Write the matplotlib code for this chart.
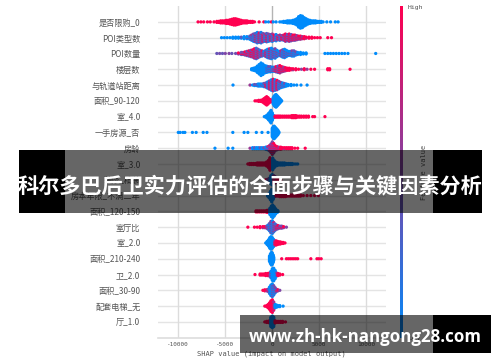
import matplotlib
matplotlib.use("Agg")
import matplotlib.pyplot as plt
import numpy as np
from matplotlib.colors import LinearSegmentedColormap
from matplotlib.patches import Rectangle

W, H = 500, 362
CJK = ["Noto Sans CJK SC", "DejaVu Sans"]
MONO = ["DejaVu Sans Mono", "Noto Sans CJK SC"]

feature_names = ["是否限购_0", "POI类型数", "POI数量", "楼层数", "与轨道站距离", "面积_90-120", "室_4.0", "一手房源_否", "房龄", "室_3.0",
                 "装修_精装", "房本年限_不满二年", "面积_120-150", "室厅比", "室_2.0", "面积_210-240", "卫_2.0", "面积_30-90", "配套电梯_无", "厅_1.0"]
x_ticks = [-10000, -5000, 0, 5000, 10000]
x_tick_labels = ["-10000", "-5000", "0", "5000", "10000"]
banner_title = "科尔多巴后卫实力评估的全面步骤与关键因素分析"
banner_url = "www.zh-hk-nangong28.com"

# each row: shap value of a bin, how many samples stack there, feature value (0 low, 1 high)
row0_x = [-7900, -7600, -7300, -6900, -6600, -6200, -5900, -5700, -5500, -5300, -5100, -4900, -4700, -4500, -4300, -4100, -3900, -3700, -3500, -3300, -3100, -2900, -2700, -2500, -2300, -2100, -1900, -1400, -900, -700, -400, -100, 100, 400, 800, 1000, 1200, 1400, 1600, 1800, 2000, 2200, 2400, 2600, 2800, 3000, 3200, 3400, 3600, 3800, 4000, 4200, 4400, 4600, 4800, 5000, 5200, 5400, 5800, 6200, 6700, 7000]
row0_n = [1, 1, 1, 1, 1, 1, 2, 2, 3, 3, 3, 4, 4, 5, 6, 7, 7, 6, 5, 4, 3, 3, 3, 2, 2, 2, 1, 1, 1, 1, 1, 1, 1, 1, 1, 1, 2, 2, 3, 3, 3, 4, 5, 7, 11, 13, 12, 9, 7, 5, 4, 3, 3, 3, 2, 2, 2, 1, 1, 1, 1, 1]
row0_c = [1] * 29 + [0, 0, 1, 0, 0] + [0] * 28

row1_x = [-5400, -5100, -4800, -4500, -4200, -3900, -3600, -3300, -3000, -2700, -2400, -2200, -2000, -1800, -1600, -1400, -1200, -1000, -800, -600, -400, -200, 0, 200, 400, 600, 800, 1000, 1200, 1400, 1600, 1800, 2000, 2200, 2400, 2600, 2800, 3000, 3200, 3400, 3600, 3900, 4200, 4500, 4800, 5100, 5900, 6300]
row1_n = [1, 1, 1, 1, 2, 2, 2, 2, 3, 3, 4, 6, 8, 9, 11, 10, 11, 9, 8, 9, 8, 7, 8, 6, 7, 5, 6, 5, 6, 8, 7, 8, 7, 6, 6, 5, 4, 4, 3, 3, 2, 2, 2, 1, 1, 1, 1, 1]
row1_c = [0, 0, 0, 0, 0, 0, 0, 0.05, 0, 0.1, 0.05, 0.3, 0.15, 0.55, 0.3, 0.6, 0.35, 0.7, 0.3, 0.6, 0.2, 0.65, 0.3, 0.7, 0.25, 0.75, 0.4, 0.8, 0.55, 0.85, 0.6, 0.85, 0.65, 0.9, 0.7, 0.85, 0.8, 0.95, 0.9, 1, 0.95, 1, 1, 1, 1, 1, 1, 1]

row2_x = [-5900, -5600, -5300, -5000, -4600, -4300, -3900, -3600, -3300, -3100, -2900, -2700, -2500, -2300, -2100, -1900, -1700, -1500, -1300, -1100, -900, -700, -500, -300, -100, 100, 300, 500, 700, 900, 1100, 1300, 1500, 1700, 1900, 2100, 2300, 2500, 2700, 3000, 3300, 3600, 5600, 5900, 6200, 6500, 6800, 7100, 7400, 7700, 8050, 11000]
row2_n = [1, 1, 1, 1, 1, 1, 1, 2, 3, 3, 4, 5, 6, 7, 8, 10, 11, 9, 7, 6, 5, 7, 9, 10, 11, 9, 10, 7, 5, 6, 8, 9, 7, 5, 5, 6, 6, 4, 3, 3, 2, 2, 1, 1, 1, 1, 1, 1, 1, 1, 1, 1]
row2_c = [0.7, 0.75, 0.7, 0.8, 0.8, 0.7, 0.75, 0.75, 0.7, 0.8, 0.7, 0.75, 0.6, 0.8, 0.65, 0.85, 0.5, 0.7, 0.4, 0.6, 0.3, 0.6, 0.2, 0.5, 0.15, 0.4, 0.2, 0.35, 0.1, 0.4, 0.1, 0.3, 0.1, 0.2, 0.05, 0.25, 0.05, 0.15, 0.05, 0, 0, 0, 0.05, 0, 0, 0, 0, 0, 0, 0, 0, 0]

row3_x = [-2200, -2000, -1800, -1600, -1400, -1200, -1000, -800, -600, -400, -200, 0, 200, 400, 600, 800, 1000, 1200, 1400, 1600, 1800, 2000, 2200, 2500, 2800, 3100, 3400, 3700, 4100, 4500, 5900, 6100, 8270]
row3_n = [2, 3, 4, 7, 10, 13, 11, 8, 7, 6, 6, 5, 5, 6, 7, 8, 6, 5, 4, 3, 3, 2, 2, 2, 1, 1, 2, 1, 1, 1, 2, 2, 1]
row3_c = [0, 0, 0, 0, 0, 0, 0, 0, 0.05, 0.1, 0.1, 0.3, 0.55, 0.75, 0.6, 0.85, 0.8, 0.9, 0.95, 1, 1, 1, 0.9, 1, 1, 0.85, 1, 0.9, 1, 1, 1, 1, 1]

row4_x = [-4180, -2370, -2100, -1900, -1700, -1500, -1300, -1100, -900, -700, -500, -300, -100, 100, 300, 500, 700, 900, 1100, 1300, 1500, 1700, 2000, 2300, 2600, 3050, 3700]
row4_n = [1, 1, 1, 2, 2, 3, 3, 3, 4, 5, 7, 9, 11, 12, 11, 10, 8, 6, 5, 4, 3, 2, 2, 1, 1, 1, 1]
row4_c = [0, 0.9, 0.3, 0.1, 0.05, 0.1, 0, 0.2, 0.1, 0.7, 0.1, 0.85, 0.2, 0.9, 0.25, 0.8, 0.2, 0.3, 0.05, 0.15, 0, 0, 0, 0, 0, 0, 0]

row5_x = [-1840, -1650, -1450, -1250, -1050, -900, -750, -600, -450, -300, -150, 0, 100, 200, 300, 400, 500, 600, 700, 800, 900, 1000]
row5_n = [1, 1, 2, 2, 3, 5, 7, 9, 7, 4, 3, 2, 7, 10, 12, 13, 11, 9, 7, 5, 3, 1]
row5_c = [1] * 12 + [0] * 10

row6_x = [-850, -700, -550, -400, -250, -140, 0, 150, 300, 450, 600, 750, 900, 1100, 1300, 1500, 1700, 1900, 2100, 2300, 2500, 2700, 2900, 3100, 3350, 3600, 3850, 4300, 4500, 5600]
row6_n = [1, 2, 4, 7, 10, 13, 8, 3, 2, 2, 2, 2, 2, 2, 2, 2, 2, 2, 3, 3, 3, 2, 2, 2, 2, 2, 2, 1, 1, 1]
row6_c = [0, 0, 0, 0, 0, 0, 0, 0, 1, 1, 1, 1, 1, 1, 1, 1, 1, 1, 1, 1, 1, 1, 1, 1, 1, 1, 1, 1, 1, 1]

row7_x = [-10000, -9800, -9500, -9300, -8500, -8100, -7350, -6950, -4200, -3000, -2600, -1700, -1100, -450, 0, 100, 200, 300, 400, 500, 600, 700]
row7_n = [1, 1, 1, 1, 1, 1, 1, 1, 1, 1, 1, 1, 1, 1, 9, 12, 13, 11, 9, 7, 5, 2]
row7_c = [0] * 22

row8_x = [-6100, -4700, -4200, -2370, -2100, -1900, -1700, -1500, -1300, -1100, -900, -700, -500, -300, -150, 0, 150, 300, 500, 700, 900, 1100, 1300, 1500, 1700, 1900, 2100, 2400, 2700, 3500]
row8_n = [1, 1, 1, 1, 2, 2, 2, 2, 2, 2, 2, 3, 4, 6, 9, 13, 10, 6, 4, 3, 3, 2, 2, 2, 2, 2, 2, 1, 1, 1]
row8_c = [0, 0, 0, 0.9, 0, 0.1, 0, 0, 0.05, 0, 0.1, 0.2, 0.3, 0.6, 0.7, 0.75, 0.7, 0.75, 0.9, 0.95, 1, 1, 0.9, 1, 1, 1, 1, 1, 1, 1]

row9_x = [-2600, -2400, -2200, -2000, -1800, -1600, -1400, -1200, -1000, -800, -600, -400, -250, -100, 50, 200, 350, 500, 700, 900, 1100, 1300, 1500, 1700, 1900, 2100, 2300, 2500, 2700]
row9_n = [1, 2, 2, 2, 2, 3, 3, 3, 3, 3, 5, 8, 13, 9, 12, 8, 5, 4, 3, 3, 3, 3, 2, 2, 2, 2, 1, 1, 1]
row9_c = [1] * 14 + [0] * 15

row10_x = [-700, -500, -300, -150, 0, 150, 300, 500, 700, 900]
row10_n = [1, 2, 4, 9, 11, 9, 7, 4, 2, 1]
row10_c = [1, 0.3, 0.1, 0, 0, 0.8, 0.9, 1, 1, 1]

row11_x = [-500, -350, -200, -60, 100, 250, 400, 600, 800, 1000, 1200, 1400, 1600, 1800, 2000, 2200, 2400, 2600, 2800, 3000, 3300, 3700, 4100, 4500, 4900]
row11_n = [2, 5, 9, 13, 8, 3, 2, 2, 3, 3, 3, 3, 2, 2, 2, 2, 2, 2, 2, 2, 1, 1, 1, 1, 1]
row11_c = [0, 0, 0, 0, 0, 0, 1, 1, 1, 1, 1, 1, 1, 1, 1, 1, 1, 1, 1, 1, 1, 1, 1, 1, 1]

row12_x = [-1730, -1550, -1350, -1150, -950, -750, -550, -400, -250, -100, 50, 200, 350, 500, 600]
row12_n = [2, 2, 2, 2, 2, 2, 3, 3, 7, 11, 13, 10, 6, 3, 2]
row12_c = [1, 1, 1, 1, 1, 1, 1, 1, 0, 0, 0, 0, 0, 0, 0]

row13_x = [-2600, -1900, -1600, -1300, -1000, -800, -600, -450, -300, -150, 0, 150, 300, 450, 600, 800, 1000, 1200, 1500]
row13_n = [1, 1, 1, 2, 2, 2, 3, 5, 8, 12, 13, 10, 7, 5, 4, 3, 3, 2, 1]
row13_c = [1, 1, 1, 1, 0.9, 0.9, 0.8, 0.4, 0.1, 0.35, 0.1, 0.4, 0.5, 0.7, 0.7, 0.75, 0.75, 0.8, 0.8]

row14_x = [-700, -550, -400, -270, -140, 0, 130, 270, 400, 550, 700, 850, 1000, 1150, 1350]
row14_n = [1, 4, 7, 11, 13, 11, 8, 5, 5, 4, 3, 3, 2, 2, 1]
row14_c = [0, 0, 0, 0, 0, 0, 0, 0.7, 1, 1, 1, 1, 1, 1, 1]

row15_x = [-300, -200, -100, 0, 100, 150, 1000, 1500, 1700, 1900, 2100, 2300, 2500, 2700, 4100, 4750, 4950, 5200]
row15_n = [6, 10, 13, 12, 8, 4, 1, 1, 1, 1, 1, 1, 1, 1, 1, 1, 1, 1]
row15_c = [0, 0, 0, 0, 0, 0, 1, 1, 1, 1, 1, 1, 1, 1, 1, 1, 1, 1]

row16_x = [-1840, -1300, -1100, -900, -700, -500, -300, -150, 0, 150, 300, 450, 600, 800, 1100]
row16_n = [1, 2, 2, 2, 3, 3, 4, 7, 12, 13, 9, 4, 3, 2, 1]
row16_c = [1, 1, 1, 1, 1, 1, 0.9, 0.3, 0, 0, 0, 0.1, 1, 1, 1]

row17_x = [-1000, -800, -600, -450, -300, -150, 0, 150, 300, 450, 600, 800]
row17_n = [1, 2, 2, 3, 7, 11, 13, 10, 6, 3, 2, 1]
row17_c = [1, 1, 0.9, 0.7, 0.1, 0, 0.25, 0.1, 0.2, 0.7, 0.85, 0.8]

row18_x = [-800, -600, -450, -300, -150, 0, 150, 300, 450, 600, 800, 1150]
row18_n = [1, 2, 4, 7, 11, 13, 9, 4, 3, 2, 2, 1]
row18_c = [1, 1, 1, 1, 1, 1, 0.95, 0, 0, 0, 0, 0]

row19_x = [-800, -600, -450, -300, -150, 0, 150, 300, 500, 700, 900, 1100, 1400]
row19_n = [1, 2, 2, 3, 10, 12, 10, 3, 2, 2, 2, 2, 1]
row19_c = [1, 1, 1, 1, 0, 0, 0, 1, 1, 1, 1, 1, 1]

rows_x = [row0_x, row1_x, row2_x, row3_x, row4_x, row5_x, row6_x, row7_x, row8_x, row9_x, row10_x, row11_x, row12_x, row13_x, row14_x, row15_x, row16_x, row17_x, row18_x, row19_x]
rows_n = [row0_n, row1_n, row2_n, row3_n, row4_n, row5_n, row6_n, row7_n, row8_n, row9_n, row10_n, row11_n, row12_n, row13_n, row14_n, row15_n, row16_n, row17_n, row18_n, row19_n]
rows_c = [row0_c, row1_c, row2_c, row3_c, row4_c, row5_c, row6_c, row7_c, row8_c, row9_c, row10_c, row11_c, row12_c, row13_c, row14_c, row15_c, row16_c, row17_c, row18_c, row19_c]

red_blue = LinearSegmentedColormap.from_list("red_blue", ["#008bfb", "#ff0051"])


def px_rect(x0, y0, x1, y1):
    # pixel box, y measured from the top of the image
    return [x0 / W, 1 - y1 / H, (x1 - x0) / W, (y1 - y0) / H]


fig = plt.figure(figsize=(5.0, 3.62), dpi=100, facecolor="white")
ax = fig.add_axes(px_rect(157.7, 6.1, 386, 337.7))

n_rows = len(feature_names)
step = 0.066
for i in range(n_rows):
    pos = n_rows - 1 - i
    ax.axhline(pos, color="#e4e4e4", lw=1.0, zorder=1)
    xs, ys, cs = [], [], []
    for x, n, c in zip(rows_x[i], rows_n[i], rows_c[i]):
        for k in range(n):
            xs.append(x)
            ys.append(pos + (k - (n - 1) / 2) * step)
            # mixed bins get a speckle like the overlapping samples
            if 0 < c < 1:
                cs.append(min(1, max(0, c + (0.3 if k % 2 else -0.3))))
            else:
                cs.append(c)
    ax.scatter(xs, ys, c=cs, cmap=red_blue, vmin=0, vmax=1, s=5.5, linewidths=0, zorder=3)

for t in x_ticks:
    ax.axvline(t, color="#b4b4b4" if t == 0 else "#dcdcdc", lw=1.0, zorder=2)

ax.set_xlim(-12191, 12096)
ax.set_ylim(-1, n_rows)
ax.set_yticks(range(n_rows))
ax.set_yticklabels(feature_names[::-1], family=CJK, fontsize=5.9, color="#555555")
ax.set_xticks(x_ticks)
ax.set_xticklabels(x_tick_labels, family=MONO, fontsize=4.3, color="#555555")
ax.tick_params(axis="y", length=0, pad=12.5)
ax.tick_params(axis="x", length=0, pad=3)
ax.set_xlabel("SHAP value (impact on model output)", family=MONO, fontsize=5.0, color="#555555", labelpad=2.5)
for name in ("top", "left", "right"):
    ax.spines[name].set_visible(False)
ax.spines["bottom"].set_color("#dddddd")
ax.spines["bottom"].set_linewidth(1.2)

cax = fig.add_axes(px_rect(400.2, 6.1, 403.2, 337.7))
cax.imshow(np.linspace(1, 0, 256).reshape(-1, 1), cmap=red_blue, aspect="auto")
cax.axis("off")
fig.text(408 / W, 1 - 7 / H, "High", family=MONO, fontsize=4.6, color="#555555", ha="left", va="center")
fig.text(408 / W, 1 - 338 / H, "Low", family=MONO, fontsize=4.6, color="#555555", ha="left", va="center")
fig.text(424 / W, 1 - 172 / H, "Feature value", family=MONO, fontsize=5.0, color="#555555", ha="center", va="center", rotation=90)

# watermark banners over the chart
banners = [(19, 150, 65, 213, 1.0), (65, 150, 433, 213, 0.6), (433, 150, 482, 213, 1.0),
           (240, 315, 433, 353, 0.6), (433, 315, 491, 353, 1.0)]
for x0, y0, x1, y1, alpha in banners:
    b = px_rect(x0, y0, x1, y1)
    fig.patches.append(Rectangle((b[0], b[1]), b[2], b[3], transform=fig.transFigure, fc="black", ec="none", alpha=alpha, zorder=10))
fig.text(250 / W, 1 - 186 / H, banner_title, family=CJK, fontsize=15.2, fontweight="bold", color="white", ha="center", va="center", zorder=11)
fig.text(365 / W, 1 - 337 / H, banner_url, family=["Open Sans", "DejaVu Sans"], fontsize=12.2, fontweight="bold", color="white", ha="center", va="center", zorder=11)

fig.savefig("out.png", dpi=100, facecolor="white")
plt.close(fig)
